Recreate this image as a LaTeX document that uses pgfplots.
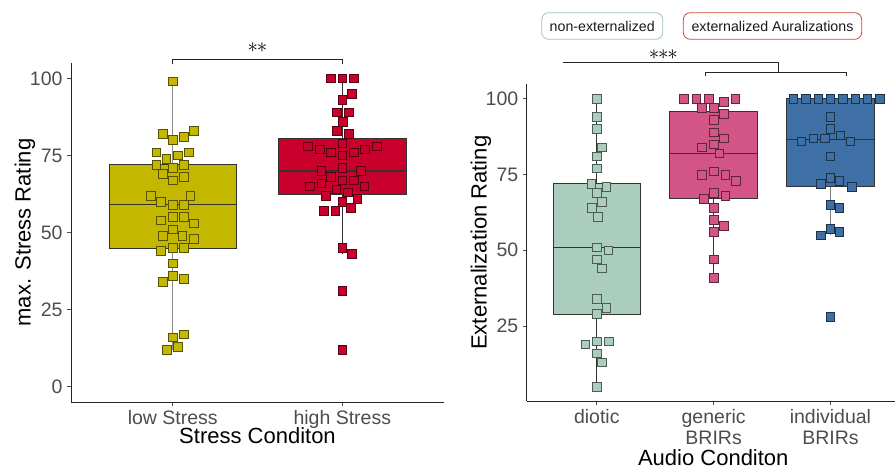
\documentclass[border=0pt]{standalone}
\usepackage{pgfplots}
\pgfplotsset{compat=1.18}
\usepackage{fontspec}
\setmainfont{Liberation Sans}
\definecolor{lowc}{HTML}{C4B700}
\definecolor{highc}{HTML}{C8002B}
\definecolor{dioc}{HTML}{AACDBD}
\definecolor{genc}{HTML}{D25585}
\definecolor{indc}{HTML}{3E70A6}
\definecolor{mintb}{HTML}{9CC5B2}
\definecolor{redb}{HTML}{D0452E}
\definecolor{tickc}{HTML}{4D4D4D}
\definecolor{boxc}{HTML}{333333}
\newcommand{\twoline}[2]{\vtop{\baselineskip=21pt\hbox to 0pt{\hss#1\hss}\hbox to 0pt{\hss#2\hss}}}

\pgfplotstableread{
x y
1.000 99
0.941 82
1.000 80
1.065 81
1.124 83
0.904 76
0.961 74
1.029 75
1.096 76
0.904 72
1.000 71
1.065 72
0.941 69
1.000 67
1.065 68
0.871 62
1.104 62
0.931 60
1.000 59
1.065 59
0.931 54
1.000 55
1.065 55
1.124 53
1.000 51
0.941 49
1.057 49
1.124 48
0.931 44
1.000 45
1.065 45
1.000 40
0.941 34
1.000 36
1.065 35
1.000 16
1.065 17
0.965 12
1.029 13
}\lowdata

\pgfplotstableread{
x y
1.931 100
2.000 100
2.069 100
2.057 95
2.000 93
1.969 89
2.039 89
2.004 86
1.969 83
2.037 82
2.000 79
1.798 78
1.867 77
1.933 76
2.000 75
2.067 76
2.133 77
2.202 78
2.000 71
1.876 70
2.108 70
1.933 68
2.000 67
2.069 67
1.808 65
1.876 66
2.129 65
1.965 64
2.031 63
1.904 62
2.088 61
2.000 60
2.051 58
1.890 57
1.959 57
2.000 45
2.057 43
2.000 31
2.000 12
}\highdata

\pgfplotstableread{
x y
1.000 100
1.000 94
1.000 90
1.043 84
1.000 81
1.000 77
0.952 72
1.083 71
1.000 69
1.043 66
0.957 64
1.006 61
1.000 51
1.097 50
1.000 47
1.043 44
1.000 34
1.083 31
1.000 29
0.900 19
1.000 20
1.103 20
1.000 16
1.043 13
1.000 5
}\diodata

\pgfplotstableread{
x y
1.744 100
1.852 100
1.957 100
2.185 100
2.085 99
1.900 97
2.000 97
2.085 95
2.000 93
2.000 89
2.085 87
2.000 85
1.900 84
2.048 82
2.000 76
1.900 75
2.100 75
2.188 73
2.000 69
2.100 68
1.915 67
2.000 64
2.000 60
2.085 58
2.000 56
2.000 47
2.000 41
}\gendata

\pgfplotstableread{
x y
2.681 100
2.789 100
2.895 100
3.000 100
3.105 100
3.211 100
3.316 100
3.422 100
3.000 94
3.000 90
3.085 88
2.749 86
2.852 87
2.954 87
3.171 86
3.000 81
3.000 74
2.917 72
3.077 73
3.185 71
3.000 65
3.077 64
3.000 57
2.917 55
3.077 56
3.000 28
}\inddata

\pgfplotsset{
  myaxis/.style={
    scale only axis,
    axis lines=left,
    axis line style={-, draw=black!85, line width=0.6pt},
    tick align=outside,
    major tick length=4pt,
    tick style={tickc, line width=0.6pt},
    clip=false,
    /pgf/number format/assume math mode=true,
    ticklabel style={font=\fontsize{19.5}{22}\selectfont, text=tickc, inner sep=0pt},
    yticklabel style={anchor=east, xshift=-4.3pt},
    xticklabel style={anchor=base, yshift=-19pt},
    label style={font=\fontsize{22}{24}\selectfont, text=black, inner sep=0pt},
    ytick={0,25,50,75,100},
  },
  boxfill/.style={draw=boxc, line width=0.7pt, fill=#1},
  whisk/.style={draw=#1, line width=0.7pt, mark=none},
  medline/.style={draw=boxc, line width=1.4pt, mark=none},
  mypts/.style={
    only marks, mark=square*, mark size=4.3pt,
    mark options={fill=#1, draw=#1!45!black, line width=0.6pt},
  },
}

\begin{document}
\begin{tikzpicture}
\path[use as bounding box] (0pt,0pt) rectangle (895pt,468pt);

% ---------------- left panel
\begin{axis}[myaxis,
  at={(71pt,66pt)}, anchor=south west,
  width=373pt, height=339pt,
  xmin=0.4, xmax=2.6, ymin=-5, ymax=105,
  xtick={1,2}, xticklabels={low Stress, high Stress},
  xlabel={Stress Conditon},
  ylabel={max. Stress Rating},
  xlabel style={at={(axis description cs:0.5,-0.1239)}, anchor=base},
  ylabel style={at={(axis description cs:-0.108,0.5)}, anchor=base},
]
% low stress box
\addplot[whisk=black!45] coordinates {(1,12) (1,45)};
\addplot[whisk=black!45] coordinates {(1,72) (1,99)};
\addplot[boxfill=lowc] coordinates {(0.625,45) (1.375,45) (1.375,72) (0.625,72)} -- cycle;
\addplot[medline] coordinates {(0.625,59) (1.375,59)};
% high stress box
\addplot[whisk=boxc] coordinates {(2,43) (2,62.5)};
\addplot[whisk=boxc] coordinates {(2,80.5) (2,100)};
\addplot[boxfill=highc] coordinates {(1.625,62.5) (2.375,62.5) (2.375,80.5) (1.625,80.5)} -- cycle;
\addplot[medline] coordinates {(1.625,70) (2.375,70)};
\addplot[mypts=lowc] table[x=x,y=y] {\lowdata};
\addplot[mypts=highc] table[x=x,y=y] {\highdata};
\draw[line width=0.7pt, black!85] (axis cs:1,104.7) -- (axis cs:1,106.2) -- (axis cs:2,106.2) -- (axis cs:2,104.7);
\node[font=\fontsize{20}{20}\selectfont] at (axis cs:1.5,110.0) {$\mathord{\ast}\mkern-1mu\mathord{\ast}$};
\end{axis}

% ---------------- right panel
\begin{axis}[myaxis,
  at={(526.7pt,67pt)}, anchor=south west,
  width=368pt, height=316.6pt,
  xmin=0.4, xmax=3.55, ymin=0.25, ymax=104.75,
  ytick={25,50,75,100},
  xtick={1,2,3},
  xticklabels={diotic, {\twoline{generic}{BRIRs}}, {\twoline{individual}{BRIRs}}},
  xlabel={Audio Conditon},
  ylabel={Externalization Rating},
  xlabel style={at={(axis description cs:0.507,-0.2025)}, anchor=base},
  ylabel style={at={(axis description cs:-0.1087,0.5)}, anchor=base},
]
% diotic
\addplot[whisk=boxc] coordinates {(1,5) (1,29)};
\addplot[whisk=boxc] coordinates {(1,72) (1,100)};
\addplot[boxfill=dioc] coordinates {(0.625,29) (1.375,29) (1.375,72) (0.625,72)} -- cycle;
\addplot[medline] coordinates {(0.625,51) (1.375,51)};
% generic
\addplot[whisk=boxc] coordinates {(2,41) (2,67.3)};
\addplot[whisk=boxc] coordinates {(2,96) (2,100)};
\addplot[boxfill=genc] coordinates {(1.625,67.3) (2.375,67.3) (2.375,96) (1.625,96)} -- cycle;
\addplot[medline] coordinates {(1.625,82) (2.375,82)};
% individual
\addplot[whisk=black!50] coordinates {(3,55) (3,71)};
\addplot[boxfill=indc] coordinates {(2.625,71) (3.375,71) (3.375,100) (2.625,100)} -- cycle;
\addplot[medline] coordinates {(2.625,86.5) (3.375,86.5)};
\addplot[mypts=dioc] table[x=x,y=y] {\diodata};
\addplot[mypts=genc] table[x=x,y=y] {\gendata};
\addplot[mypts=indc] table[x=x,y=y] {\inddata};
\draw[line width=0.7pt, black!85] (axis cs:0.71,112.1) -- (axis cs:2.55,112.1) -- (axis cs:2.55,108.8);
\draw[line width=0.7pt, black!85] (axis cs:1.93,107.4) -- (axis cs:1.93,108.8) -- (axis cs:3.14,108.8) -- (axis cs:3.14,107.4);
\node[font=\fontsize{20}{20}\selectfont] at (axis cs:1.57,114.7) {$\mathord{\ast}\mkern-1mu\mathord{\ast}\mkern-1mu\mathord{\ast}$};
\end{axis}

% ---------------- top boxes
\node[draw=mintb, line width=0.8pt, rounded corners=7pt, minimum width=121pt, minimum height=26.6pt, inner sep=0pt, font=\fontsize{14.2}{14.2}\selectfont, text=black!90] at (602.2pt,442pt) {non-externalized};
\node[draw=redb, line width=0.8pt, rounded corners=7pt, minimum width=178.4pt, minimum height=26.6pt, inner sep=0pt, font=\fontsize{14.2}{14.2}\selectfont, text=black!90] at (772.5pt,442pt) {externalized Auralizations};
\end{tikzpicture}
\end{document}
